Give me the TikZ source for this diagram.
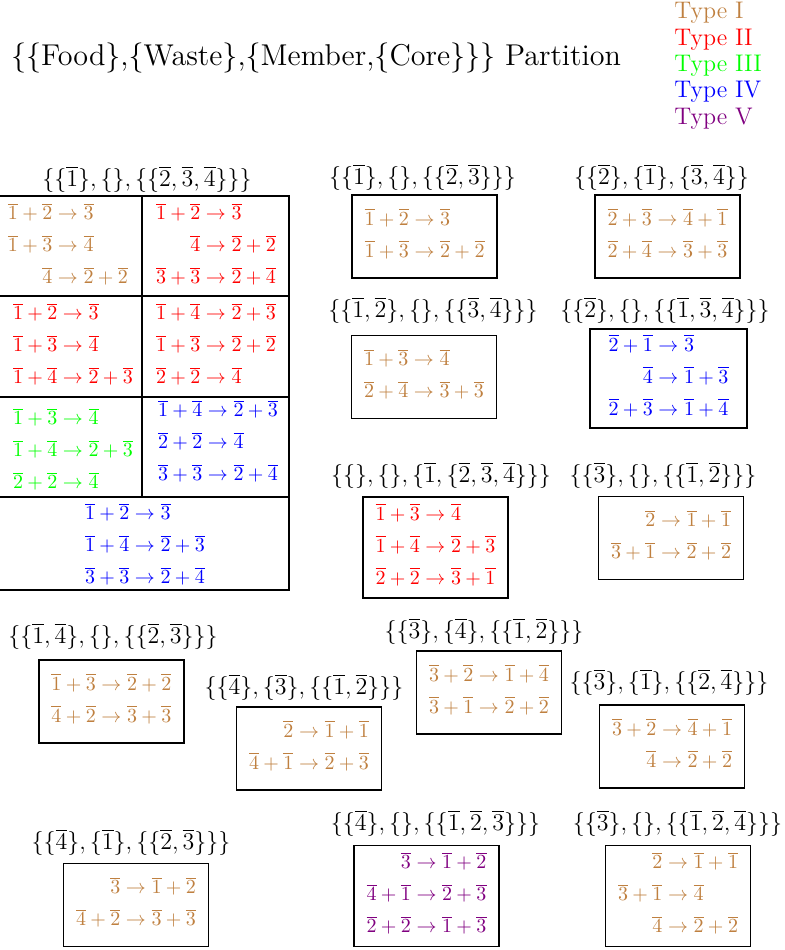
\documentclass[tikz,border=0pt]{standalone}
\usepackage{amsmath}
\usepackage{xcolor}
\newcommand{\cb}[1]{\overline{#1}}
\colorlet{typeI}{brown}
\colorlet{typeII}{red}
\colorlet{typeIII}{green}
\colorlet{typeIV}{blue}
\colorlet{typeV}{violet}
\tikzset{
	rxbox/.style={draw,line width=0.7pt,minimum width=72.5pt,minimum height=41.5pt,inner sep=0pt},
	rxcell/.style={inner sep=0pt},
	setlbl/.style={font=\large,inner sep=0pt},
}

\begin{document}
\begin{tikzpicture}[x=0.5pt,y=-0.5pt]
	\useasboundingbox (0,0) rectangle (784,950);
	% title and legend
	\node[font=\Large] (title) at (316,58) {\scalebox{1.045}{\{\{Food\},\{Waste\},\{Member,\{Core\}\}\} Partition}};
	\foreach \t/\c/\y in {I/typeI/18,II/typeII/45,III/typeIII/71,IV/typeIV/97,V/typeV/124}
		\node[font=\large,text=\c,anchor=base west,inner sep=0pt] (leg\t) at (674,\y) {Type \t};

	% the split table
	\node[setlbl] (tlbl) at (147,179) {$\{\{\cb1\},\{\},\{\{\cb2,\cb3,\cb4\}\}\}$};
	\draw[line width=0.7pt] (0,196) -- (289,196) -- (289,590) -- (0,590);
	\draw[line width=0.7pt] (0,296) -- (289,296) (0,397) -- (289,397) (0,497) -- (289,497);
	\draw[line width=0.7pt] (142,196) -- (142,497);
	\node[rxcell,text=typeI] (c11) at (68,247) {$\begin{aligned}\cb1+\cb2&\to\cb3\\\cb1+\cb3&\to\cb4\\\cb4&\to\cb2+\cb2\end{aligned}$};
	\node[rxcell,text=typeII] (c12) at (216,247) {$\begin{aligned}\cb1+\cb2&\to\cb3\\\cb4&\to\cb2+\cb2\\\cb3+\cb3&\to\cb2+\cb4\end{aligned}$};
	\node[rxcell,text=typeII] (c21) at (73,347) {$\begin{aligned}\cb1+\cb2&\to\cb3\\\cb1+\cb3&\to\cb4\\\cb1+\cb4&\to\cb2+\cb3\end{aligned}$};
	\node[rxcell,text=typeII] (c22) at (216,347) {$\begin{aligned}\cb1+\cb4&\to\cb2+\cb3\\\cb1+\cb3&\to\cb2+\cb2\\\cb2+\cb2&\to\cb4\end{aligned}$};
	\node[rxcell,text=typeIII] (c31) at (73,452) {$\begin{aligned}\cb1+\cb3&\to\cb4\\\cb1+\cb4&\to\cb2+\cb3\\\cb2+\cb2&\to\cb4\end{aligned}$};
	\node[rxcell,text=typeIV] (c32) at (218,444) {$\begin{aligned}\cb1+\cb4&\to\cb2+\cb3\\\cb2+\cb2&\to\cb4\\\cb3+\cb3&\to\cb2+\cb4\end{aligned}$};
	\node[rxcell,text=typeIV] (c41) at (145,547) {$\begin{aligned}\cb1+\cb2&\to\cb3\\\cb1+\cb4&\to\cb2+\cb3\\\cb3+\cb3&\to\cb2+\cb4\end{aligned}$};

	% the small partitions
	\node[setlbl] (l1) at (422.5,177) {$\{\{\cb1\},\{\},\{\{\cb2,\cb3\}\}\}$};
	\node[rxbox,text=typeI] (b1) at (424.5,236.5) {$\begin{aligned}\cb1+\cb2&\to\cb3\\\cb1+\cb3&\to\cb2+\cb2\end{aligned}$};

	\node[setlbl] (l2) at (661.5,177) {$\{\{\cb2\},\{\cb1\},\{\cb3,\cb4\}\}$};
	\node[rxbox,text=typeI] (b2) at (667.5,236.5) {$\begin{aligned}\cb2+\cb3&\to\cb4+\cb1\\\cb2+\cb4&\to\cb3+\cb3\end{aligned}$};

	\node[setlbl] (l3) at (433,310) {$\{\{\cb1,\cb2\},\{\},\{\{\cb3,\cb4\}\}\}$};
	\node[rxbox,text=typeI] (b3) at (424,377) {$\begin{aligned}\cb1+\cb3&\to\cb4\\\cb2+\cb4&\to\cb3+\cb3\end{aligned}$};

	\node[setlbl] (l4) at (665,310) {$\{\{\cb2\},\{\},\{\{\cb1,\cb3,\cb4\}\}\}$};
	\node[rxbox,text=typeIV,minimum width=78.5pt,minimum height=49.5pt] (b4) at (668.5,378.5) {$\begin{aligned}\cb2+\cb1&\to\cb3\\\cb4&\to\cb1+\cb3\\\cb2+\cb3&\to\cb1+\cb4\end{aligned}$};

	\node[setlbl] (l5) at (441,475) {$\{\{\},\{\},\{\cb1,\{\cb2,\cb3,\cb4\}\}\}$};
	\node[rxbox,text=typeII,minimum height=50.5pt] (b5) at (435.5,547.5) {$\begin{aligned}\cb1+\cb3&\to\cb4\\\cb1+\cb4&\to\cb2+\cb3\\\cb2+\cb2&\to\cb3+\cb1\end{aligned}$};

	\node[setlbl] (l6) at (663,475) {$\{\{\cb3\},\{\},\{\{\cb1,\cb2\}\}\}$};
	\node[rxbox,text=typeI] (b6) at (671,538) {$\begin{aligned}\cb2&\to\cb1+\cb1\\\cb3+\cb1&\to\cb2+\cb2\end{aligned}$};

	\node[setlbl] (l7) at (113,636) {$\{\{\cb1,\cb4\},\{\},\{\{\cb2,\cb3\}\}\}$};
	\node[rxbox,text=typeI] (b7) at (111.5,701.5) {$\begin{aligned}\cb1+\cb3&\to\cb2+\cb2\\\cb4+\cb2&\to\cb3+\cb3\end{aligned}$};

	\node[setlbl] (l8) at (304,687) {$\{\{\cb4\},\{\cb3\},\{\{\cb1,\cb2\}\}\}$};
	\node[rxbox,text=typeI] (b8) at (309,748.5) {$\begin{aligned}\cb2&\to\cb1+\cb1\\\cb4+\cb1&\to\cb2+\cb3\end{aligned}$};

	\node[setlbl] (l9) at (484,631) {$\{\{\cb3\},\{\cb4\},\{\{\cb1,\cb2\}\}\}$};
	\node[rxbox,text=typeI] (b9) at (489,692.5) {$\begin{aligned}\cb3+\cb2&\to\cb1+\cb4\\\cb3+\cb1&\to\cb2+\cb2\end{aligned}$};

	\node[setlbl] (l10) at (669,682) {$\{\{\cb3\},\{\cb1\},\{\{\cb2,\cb4\}\}\}$};
	\node[rxbox,text=typeI] (b10) at (672,746.5) {$\begin{aligned}\cb3+\cb2&\to\cb4+\cb1\\\cb4&\to\cb2+\cb2\end{aligned}$};

	\node[setlbl] (l11) at (131,842) {$\{\{\cb4\},\{\cb1\},\{\{\cb2,\cb3\}\}\}$};
	\node[rxbox,text=typeI] (b11) at (136,905) {$\begin{aligned}\cb3&\to\cb1+\cb2\\\cb4+\cb2&\to\cb3+\cb3\end{aligned}$};

	\node[setlbl] (l12) at (435.5,823) {$\{\{\cb4\},\{\},\{\{\cb1,\cb2,\cb3\}\}\}$};
	\node[rxbox,text=typeV,minimum height=50.5pt] (b12) at (426.5,896) {$\begin{aligned}\cb3&\to\cb1+\cb2\\\cb4+\cb1&\to\cb2+\cb3\\\cb2+\cb2&\to\cb1+\cb3\end{aligned}$};

	\node[setlbl] (l13) at (677.5,823) {$\{\{\cb3\},\{\},\{\{\cb1,\cb2,\cb4\}\}\}$};
	\node[rxbox,text=typeI,minimum height=50.5pt] (b13) at (678,896) {$\begin{aligned}\cb2&\to\cb1+\cb1\\\cb3+\cb1&\to\cb4\\\cb4&\to\cb2+\cb2\end{aligned}$};
\end{tikzpicture}
\end{document}
